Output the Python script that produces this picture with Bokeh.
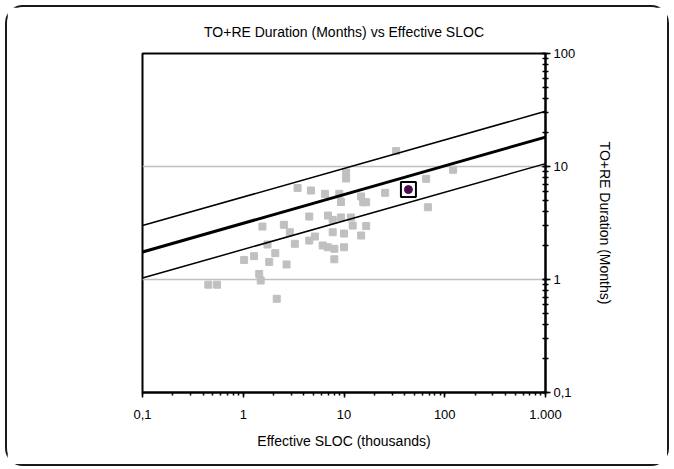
from bokeh.plotting import figure
from bokeh.models import LogTicker, CustomJSTickFormatter, ColumnDataSource
from bokeh.embed import file_html
from bokeh.resources import INLINE

# ---- data ----
sloc = [0.45, 0.55, 1.02, 1.28, 1.44, 1.49, 1.55, 1.74, 1.81, 2.08, 2.15, 2.53, 2.69, 2.90,
        3.25, 3.46, 4.52, 4.52, 4.70, 5.14, 6.14, 6.47, 6.93, 6.89, 7.73, 7.73, 8.02, 8.02,
        8.98, 9.33, 9.33, 10.0, 10.0, 10.5, 10.5, 11.7, 12.2, 14.8, 15.5, 16.6, 14.8, 16.6,
        25.6, 32.9, 65.4, 68.0, 121]
duration = [0.90, 0.90, 1.49, 1.61, 1.12, 0.98, 2.94, 2.04, 1.43, 1.71, 0.675, 3.05, 1.36, 2.62,
            2.07, 6.45, 3.61, 2.21, 6.13, 2.40, 2.00, 5.73, 3.68, 1.93, 3.37, 2.62, 1.87, 1.51,
            5.73, 4.85, 3.54, 2.55, 1.93, 8.85, 7.83, 3.54, 3.00, 5.43, 4.83, 4.83, 2.45, 2.97,
            5.85, 13.7, 7.78, 4.36, 9.35]
highlight_sloc = [43.6]
highlight_duration = [6.25]

line_sloc = [0.1, 1000]
trend = [1.75, 18.2]
upper = [3.0, 30.8]
lower = [1.03, 10.6]

title = "TO+RE Duration (Months) vs Effective SLOC"
x_label = "Effective SLOC (thousands)"
y_label = "TO+RE Duration (Months)"

FONT = "Liberation Sans"

p = figure(width=660, height=457, x_axis_type="log", y_axis_type="log",
           x_range=(0.1, 1000), y_range=(0.1, 100),
           y_axis_location="right", output_backend="svg", toolbar_location=None,
           title=title)
p.frame_width = 403
p.frame_height = 339
p.min_border_left = 135
p.min_border_top = 46
p.min_border_right = 122
p.min_border_bottom = 72
p.margin = (5, 0, 0, 5)
p.styles = {"border": "2px solid #1a1a1a", "border-radius": "18px"}

p.title.align = "center"
p.title.text_font = FONT
p.title.text_font_size = "14px"
p.title.text_font_style = "normal"
p.title.text_color = "black"
p.title.standoff = 28

p.outline_line_color = "black"
p.outline_line_width = 2
p.background_fill_color = "white"
p.border_fill_color = "white"

fmt = CustomJSTickFormatter(code="""
    const v = Math.round(tick * 1000) / 1000;
    if (v < 1) { return String(v).replace('.', ','); }
    return String(Math.round(v)).replace(/\\B(?=(\\d{3})+(?!\\d))/g, '.');
""")

for ax in (p.xaxis[0], p.yaxis[0]):
    ax.ticker = LogTicker(desired_num_ticks=5, num_minor_ticks=10)
    ax.formatter = fmt
    ax.axis_line_width = 2
    ax.axis_line_color = "black"
    ax.major_tick_line_color = "black"
    ax.minor_tick_line_color = "black"
    ax.major_tick_line_width = 1.5
    ax.minor_tick_line_width = 1.5
    ax.major_label_text_font = FONT
    ax.major_label_text_font_size = "13px"
    ax.major_label_text_color = "black"
    ax.axis_label_text_font = FONT
    ax.axis_label_text_font_size = "14px"
    ax.axis_label_text_font_style = "normal"
    ax.axis_label_text_color = "black"

p.xaxis.axis_label = x_label
p.xaxis.major_tick_in = 0
p.xaxis.major_tick_out = 5
p.xaxis.minor_tick_in = 0
p.xaxis.minor_tick_out = 3
p.xaxis.major_label_standoff = 12
p.xaxis.axis_label_standoff = 11

p.yaxis.axis_label = y_label
p.yaxis.major_tick_in = 3
p.yaxis.major_tick_out = 5
p.yaxis.minor_tick_in = 3
p.yaxis.minor_tick_out = 3
p.yaxis.major_label_standoff = 3
p.yaxis.axis_label_standoff = 19

p.xgrid.visible = False
p.ygrid.grid_line_color = "#c0c0c0"
p.ygrid.grid_line_width = 1.5

pts = ColumnDataSource(dict(x=sloc, y=duration))
p.scatter("x", "y", source=pts, marker="square", size=7,
          fill_color="#c0c0c0", line_color="#c0c0c0")

p.line(line_sloc, upper, line_color="black", line_width=1.5)
p.line(line_sloc, lower, line_color="black", line_width=1.5)
p.line(line_sloc, trend, line_color="black", line_width=3)

hl = ColumnDataSource(dict(x=highlight_sloc, y=highlight_duration))
p.scatter("x", "y", source=hl, marker="square", size=15,
          fill_color=None, line_color="black", line_width=2)
p.scatter("x", "y", source=hl, marker="circle", size=8,
          fill_color="#4d0a4d", line_color="#4d0a4d")

open("out.html", "w").write(file_html(p, INLINE))
